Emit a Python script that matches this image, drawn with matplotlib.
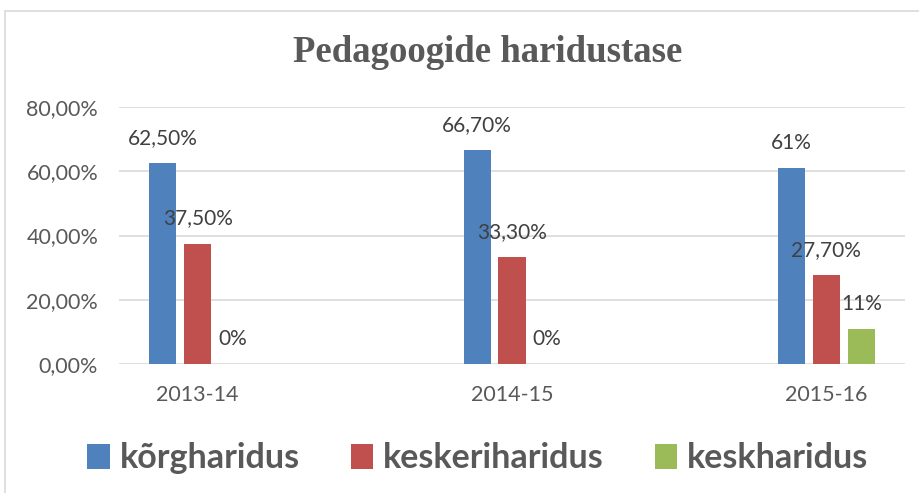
import numpy as np
import matplotlib.pyplot as plt
from matplotlib.patches import Rectangle

years = ['2013-14', '2014-15', '2015-16']
series_names = ['kõrgharidus', 'keskeriharidus', 'keskharidus']
korg = [0.625, 0.667, 0.61]
kesker = [0.375, 0.333, 0.277]
kesk = [0.0, 0.0, 0.11]
labels = [['62,50%', '66,70%', '61%'],
          ['37,50%', '33,30%', '27,70%'],
          ['0%', '0%', '11%']]
colors = ['#4F81BD', '#C0504D', '#9BBB59']
yticks = [0, 0.2, 0.4, 0.6, 0.8]
ytick_labels = ['0,00%', '20,00%', '40,00%', '60,00%', '80,00%']

W, H = 920, 493
fig = plt.figure(figsize=(W / 100, H / 100), dpi=100)
ax = fig.add_axes([119 / W, 129 / H, (905 - 119) / W, (364 - 107) / H])

# chart border
fig.patches.append(Rectangle((5 / W, -0.05), 1.1, (H - 11) / H + 0.05,
                             transform=fig.transFigure, fill=False,
                             ec='#D9D9D9', lw=1.2))

x = np.arange(len(years))
step = 0.111
width = 0.086
for i, vals in enumerate([korg, kesker, kesk]):
    pos = x + (i - 1) * step
    ax.bar(pos, vals, width, color=colors[i], label=series_names[i], zorder=3)
    for p, v, t in zip(pos, vals, labels[i]):
        ax.annotate(t, (p, v), xytext=(0, 25), textcoords='offset pixels',
                    ha='center', va='center', fontsize=15, color='#404040',
                    family='Lato', zorder=4)

ax.set_xlim(-0.25, 2.25)
ax.set_ylim(0, 0.8)
ax.set_yticks(yticks)
ax.set_yticklabels(ytick_labels)
ax.set_xticks(x)
ax.set_xticklabels(years)
ax.tick_params(length=0, labelsize=15.5, labelcolor='#595959')
ax.tick_params(axis='y', pad=15)
ax.tick_params(axis='x', pad=15)
for lab in ax.get_xticklabels() + ax.get_yticklabels():
    lab.set_family('Lato')
ax.yaxis.grid(True, color='#D9D9D9', lw=1.2, zorder=0)
for s in ax.spines.values():
    s.set_visible(False)

fig.text(488 / W, 1 - 53 / H, 'Pedagoogide haridustase', ha='center', va='center',
         fontsize=26.5, fontweight='bold', family='Liberation Serif', color='#595959')

leg = fig.legend(loc='center', bbox_to_anchor=(478 / W, 1 - 458 / H), ncol=3,
                 frameon=False, prop={'family': 'Lato', 'weight': 'bold', 'size': 24.5},
                 handlelength=0.65, handleheight=0.75, handletextpad=0.3,
                 columnspacing=1.5)
for t in leg.get_texts():
    t.set_color('#595959')

fig.savefig('out.png', dpi=100)
